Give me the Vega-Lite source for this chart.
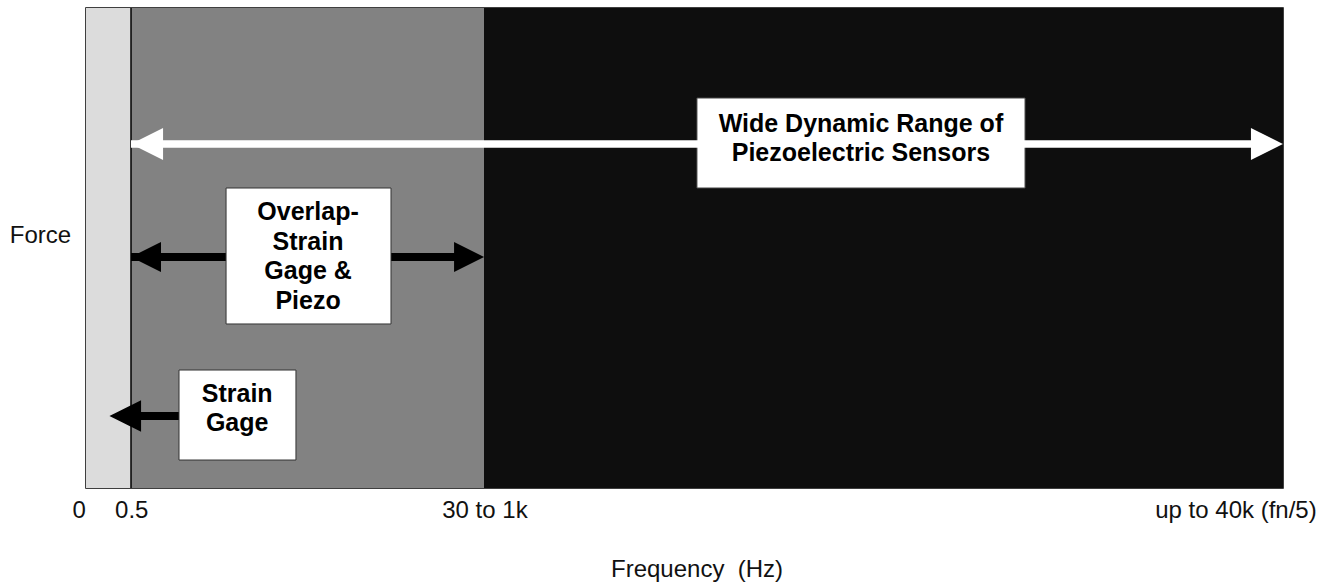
{
  "$schema": "https://vega.github.io/schema/vega-lite/v6.json",
  "width": 1197,
  "height": 480,
  "autosize": {"type": "none"},
  "padding": {"left": 86, "top": 8, "right": 41, "bottom": 98},
  "background": "white",
  "config": {"view": {"stroke": "#000", "strokeWidth": 1.5}},
  "layer": [
    {
      "data": {"values": [
        {"region": "Strain gage only", "x0": 0, "x1": 3.76, "color": "#dcdcdc"},
        {"region": "Overlap", "x0": 3.76, "x1": 33.25, "color": "#828282"},
        {"region": "Piezoelectric", "x0": 33.25, "x1": 100, "color": "#0e0e0e"}
      ]},
      "mark": {"type": "rect"},
      "encoding": {
        "x": {"field": "x0", "type": "quantitative", "scale": {"domain": [0, 100], "nice": false, "zero": false}, "axis": null},
        "x2": {"field": "x1"},
        "y": {"datum": 0, "type": "quantitative", "scale": {"domain": [0, 100], "nice": false, "zero": false}, "axis": null},
        "y2": {"datum": 100},
        "color": {"field": "color", "type": "nominal", "scale": null, "legend": null}
      }
    },
    {
      "data": {"values": [{"x": 3.76}]},
      "mark": {"type": "rule", "color": "#000", "strokeWidth": 1.5},
      "encoding": {
        "x": {"field": "x", "type": "quantitative"},
        "y": {"datum": 0, "type": "quantitative"},
        "y2": {"datum": 100}
      }
    },
    {
      "data": {"values": [
        {"x0": 51.04, "x1": 78.45, "y0": 62.5, "y1": 81.25}
      ]},
      "mark": {"type": "rect", "fill": "white", "stroke": "#444", "strokeWidth": 1},
      "encoding": {
        "x": {"field": "x0", "type": "quantitative"},
        "x2": {"field": "x1"},
        "y": {"field": "y0", "type": "quantitative"},
        "y2": {"field": "y1"}
      }
    },
    {
      "data": {"values": [{"x0": 3.76, "x1": 99, "y": 71.67}]},
      "mark": {"type": "rule", "color": "white", "strokeWidth": 7.5},
      "encoding": {
        "x": {"field": "x0", "type": "quantitative"},
        "x2": {"field": "x1"},
        "y": {"field": "y", "type": "quantitative"}
      }
    },
    {
      "data": {"values": [{"x": 98.66, "y": 71.67}]},
      "mark": {"type": "point", "shape": "M-1,-1L1,0L-1,1Z", "filled": true, "size": 1024, "color": "white", "opacity": 1, "strokeWidth": 0},
      "encoding": {
        "x": {"field": "x", "type": "quantitative"},
        "y": {"field": "y", "type": "quantitative"}
      }
    },
    {
      "data": {"values": [{"x": 5.10, "y": 71.67}]},
      "mark": {"type": "point", "shape": "M1,-1L-1,0L1,1Z", "filled": true, "size": 1024, "color": "white", "opacity": 1, "strokeWidth": 0},
      "encoding": {
        "x": {"field": "x", "type": "quantitative"},
        "y": {"field": "y", "type": "quantitative"}
      }
    },
    {
      "data": {"values": [{"x0": 3.76, "x1": 32, "y": 48.13}]},
      "mark": {"type": "rule", "color": "black", "strokeWidth": 8},
      "encoding": {
        "x": {"field": "x0", "type": "quantitative"},
        "x2": {"field": "x1"},
        "y": {"field": "y", "type": "quantitative"}
      }
    },
    {
      "data": {"values": [{"x": 32.0, "y": 48.13}]},
      "mark": {"type": "point", "shape": "M-1,-1L1,0L-1,1Z", "filled": true, "size": 900, "color": "black", "opacity": 1, "strokeWidth": 0},
      "encoding": {
        "x": {"field": "x", "type": "quantitative"},
        "y": {"field": "y", "type": "quantitative"}
      }
    },
    {
      "data": {"values": [{"x": 5.01, "y": 48.13}]},
      "mark": {"type": "point", "shape": "M1,-1L-1,0L1,1Z", "filled": true, "size": 900, "color": "black", "opacity": 1, "strokeWidth": 0},
      "encoding": {
        "x": {"field": "x", "type": "quantitative"},
        "y": {"field": "y", "type": "quantitative"}
      }
    },
    {
      "data": {"values": [{"x0": 3.28, "x1": 7.77, "y": 15}]},
      "mark": {"type": "rule", "color": "black", "strokeWidth": 8},
      "encoding": {
        "x": {"field": "x0", "type": "quantitative"},
        "x2": {"field": "x1"},
        "y": {"field": "y", "type": "quantitative"}
      }
    },
    {
      "data": {"values": [{"x": 3.28, "y": 15}]},
      "mark": {"type": "point", "shape": "M1,-1L-1,0L1,1Z", "filled": true, "size": 1000, "color": "black", "opacity": 1, "strokeWidth": 0},
      "encoding": {
        "x": {"field": "x", "type": "quantitative"},
        "y": {"field": "y", "type": "quantitative"}
      }
    },
    {
      "data": {"values": [
        {"x0": 11.70, "x1": 25.48, "y0": 34.17, "y1": 62.5},
        {"x0": 7.77, "x1": 17.54, "y0": 5.83, "y1": 24.58}
      ]},
      "mark": {"type": "rect", "fill": "white", "stroke": "#333", "strokeWidth": 1},
      "encoding": {
        "x": {"field": "x0", "type": "quantitative"},
        "x2": {"field": "x1"},
        "y": {"field": "y0", "type": "quantitative"},
        "y2": {"field": "y1"}
      }
    },
    {
      "data": {"values": [
        {"label": "Wide Dynamic Range of\nPiezoelectric Sensors", "x": 64.74, "y": 74.23},
        {"label": "Overlap-\nStrain\nGage &\nPiezo", "x": 18.55, "y": 55.83},
        {"label": "Strain\nGage", "x": 12.63, "y": 17.92}
      ]},
      "mark": {"type": "text", "font": "Liberation Sans", "fontWeight": "bold", "fontSize": 25, "lineHeight": 29.5, "lineBreak": "\n", "align": "center", "baseline": "alphabetic", "color": "#000"},
      "encoding": {
        "x": {"field": "x", "type": "quantitative"},
        "y": {"field": "y", "type": "quantitative"},
        "text": {"field": "label", "type": "nominal"}
      }
    },
    {
      "data": {"values": [
        {"label": "0", "x": -0.58, "y": -6.25},
        {"label": "0.5", "x": 3.82, "y": -6.25},
        {"label": "30 to 1k", "x": 33.33, "y": -6.25},
        {"label": "up to 40k (fn/5)", "x": 96.07, "y": -6.25},
        {"label": "Force", "x": -3.80, "y": 51.04}
      ]},
      "mark": {"type": "text", "font": "Liberation Sans", "fontSize": 24, "align": "center", "baseline": "alphabetic", "color": "#111"},
      "encoding": {
        "x": {"field": "x", "type": "quantitative"},
        "y": {"field": "y", "type": "quantitative"},
        "text": {"field": "label", "type": "nominal"}
      }
    },
    {
      "data": {"values": [{"label": "Frequency \u00a0(Hz)", "x": 43.86, "y": -18.54}]},
      "mark": {"type": "text", "font": "Liberation Sans", "fontSize": 24, "align": "left", "baseline": "alphabetic", "color": "#111"},
      "encoding": {
        "x": {"field": "x", "type": "quantitative"},
        "y": {"field": "y", "type": "quantitative"},
        "text": {"field": "label", "type": "nominal"}
      }
    }
  ]
}
